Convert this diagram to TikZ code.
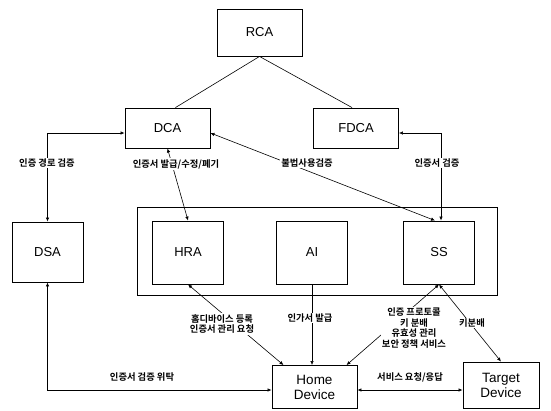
\documentclass[tikz,border=0pt]{standalone}
\usepackage{fontspec}
\setmainfont{Liberation Sans}
\newfontfamily\kofont{Noto Sans CJK KR}[BoldFont={Noto Sans CJK KR Bold}]
\usetikzlibrary{arrows.meta}

\begin{document}
\begin{tikzpicture}[
  x=1pt, y=-1pt,
  font=\fontsize{13}{14}\selectfont,
  box/.style={draw, line width=0.9pt, align=center, inner sep=2pt},
  big/.style={box, minimum width=85pt, minimum height=40pt},
  small/.style={box, minimum width=71pt, minimum height=63pt},
  dev/.style={big, font=\fontsize{13.5}{15}\selectfont},
  lbl/.style={fill=white, inner sep=1pt, align=center, font=\kofont\bfseries\fontsize{9.3}{10.5}\selectfont},
  arr/.style={{Latex[length=4pt,width=3.5pt]}-{Latex[length=4pt,width=3.5pt]}, line width=0.6pt},
  lnk/.style={line width=0.6pt}
]
\useasboundingbox (0,0) rectangle (551,410);

% CA hierarchy
\node[big, minimum height=47pt] (rca) at (259.5,32.5) {RCA};
\node[big] (dca) at (167.5,128) {DCA};
\node[big] (fdca) at (356,128) {FDCA};
\node[small, minimum height=60pt] (dsa) at (47.5,252) {DSA};

% home server group
\draw[line width=0.9pt] (137,207) rectangle (497,295);
\node[small] (hra) at (188,252.5) {HRA};
\node[small] (ai) at (312,252.5) {AI};
\node[small] (ss) at (439,252.5) {SS};

% devices
\node[dev, minimum height=43pt] (home) at (314.5,387) {Home\\Device};
\node[dev, minimum width=76pt, minimum height=46pt] (target) at (501,385) {Target\\Device};

\draw[lnk] (rca.south) -- ([xshift=8pt]dca.north);
\draw[lnk] (rca.south) -- ([xshift=-4pt]fdca.north);

\draw[arr] ([yshift=-5pt]dca.west) -| (dsa.north);
\draw[arr] ([yshift=-5pt]fdca.east) -| ([xshift=2pt]ss.north);
\draw[arr] (dsa.south) |- ([yshift=-3pt]home.west);
\draw[arr] ([yshift=-3pt]home.east) -- ([yshift=-3pt]home.east -| target.west);
\draw[arr] (dca.south) -- (hra.north);
\draw[arr] ([yshift=-5pt]dca.east) -- ([xshift=-4pt]ss.north);
\draw[arr] (hra.south) -- ([xshift=-31pt]home.north);
\draw[lnk, -{Latex[length=4pt,width=3.5pt]}] (ai.south) -- (ai.south |- home.north);
\draw[arr] (ss.south) -- ([xshift=32pt]home.north);
\draw[arr] (ss.south) -- (target.north);

% labels
\node[lbl] (l1) at (47,163) {인증 경로 검증};
\node[lbl] (l2) at (176,164) {인증서 발급/수정/폐기};
\node[lbl] (l3) at (307,163) {불법사용검증};
\node[lbl] (l4) at (437,163) {인증서 검증};
\node[lbl] (l5) at (222,324) {홈디바이스 등록\\인증서 관리 요청};
\node[lbl] (l6) at (310,318) {인가서 발급};
\node[lbl] (l7) at (414,328) {인증 프로토콜\\키 분배\\유효성 관리\\보안 정책 서비스};
\node[lbl] (l8) at (472,323) {키분배};
\node[lbl, fill=none] (l9) at (142,377) {인증서 검증 위탁};
\node[lbl, fill=none] (l10) at (410,377) {서비스 요청/응답};
\end{tikzpicture}
\end{document}
